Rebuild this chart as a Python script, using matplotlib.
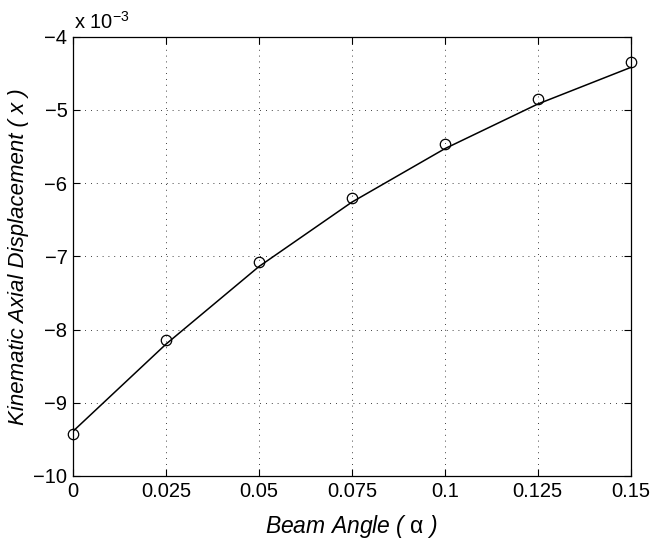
import numpy as np
import matplotlib.pyplot as plt
from matplotlib.ticker import FixedLocator, FuncFormatter

plt.rcParams['font.family'] = ['Liberation Sans', 'DejaVu Sans']
plt.rcParams['mathtext.fontset'] = 'custom'
plt.rcParams['mathtext.rm'] = 'Liberation Sans'
plt.rcParams['mathtext.it'] = 'Liberation Sans'

# beam angle samples and displacement (units of 1e-3)
alpha = [0, 0.025, 0.05, 0.075, 0.1, 0.125, 0.15]
disp_points = [-9.42, -8.14, -7.08, -6.20, -5.47, -4.85, -4.34]
disp_curve = [-9.39, -8.20, -7.14, -6.26, -5.53, -4.92, -4.42]

xticks = [0, 0.025, 0.05, 0.075, 0.1, 0.125, 0.15]
xtick_labels = ['0', '0.025', '0.05', '0.075', '0.1', '0.125', '0.15']
yticks = [-10, -9, -8, -7, -6, -5, -4]

fig = plt.figure(figsize=(6.51, 5.42), dpi=100)
ax = fig.add_axes([0.1121, 0.1218, 0.8567, 0.8105])

ax.plot(alpha, disp_curve, color='k', lw=1.1)
ax.plot(alpha, disp_points, 'o', mfc='none', mec='k', ms=7.5, mew=0.9,
        clip_on=False)

ax.set_xlim(0, 0.15)
ax.set_ylim(-10, -4)
ax.xaxis.set_major_locator(FixedLocator(xticks))
ax.set_xticklabels(xtick_labels)
ax.yaxis.set_major_locator(FixedLocator(yticks))
ax.yaxis.set_major_formatter(FuncFormatter(lambda v, p: '\u2212%d' % abs(v)))

ax.grid(True, color='k', lw=0.6, linestyle=(0, (1, 6)))
ax.tick_params(direction='in', top=True, right=True, length=5, width=0.8,
               labelsize=14.5, pad=4, colors='k')
for s in ax.spines.values():
    s.set_linewidth(0.9)

ax.set_xlabel('Beam Angle ( $\\alpha$ )', fontsize=16.5, style='italic',
              labelpad=9)
ax.set_ylabel('Kinematic Axial Displacement ( x )', fontsize=16,
              style='italic', labelpad=3)
ax.text(0.001, 1.01, 'x 10$^{\\mathregular{-3}}$', transform=ax.transAxes,
        fontsize=14.5, ha='left', va='bottom')

fig.savefig('out.png', dpi=100)
